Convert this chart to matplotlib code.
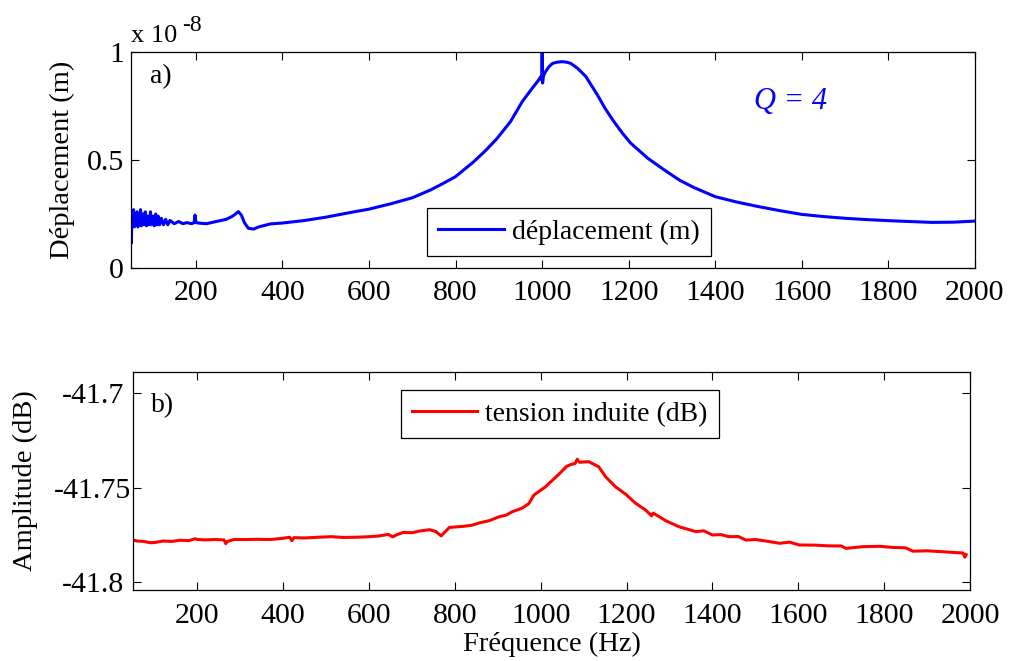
import numpy as np
import matplotlib
matplotlib.use('Agg')
from matplotlib import pyplot as plt

plt.rcParams['font.family'] = ['Liberation Serif', 'DejaVu Serif']

# a) deplacement, in units of 1e-8 m
freq_a = [50, 51, 52, 54, 56, 58, 60, 62, 64, 66, 68, 70, 72, 74, 77, 80, 83, 86, 89,
          92, 95, 98, 101, 104, 107, 110, 113, 116, 120, 125, 130, 135, 140, 150, 160,
          170, 179, 190, 196, 198, 200, 210, 225, 240, 256, 270, 285, 298, 305, 312,
          321, 333, 345, 372, 400, 448, 500, 526, 560, 599, 650, 700, 742, 770, 800,
          842, 870, 896, 927, 954, 974, 990, 997, 999, 1000, 1001, 1003, 1008, 1015,
          1024, 1035, 1047, 1058, 1066, 1082, 1101, 1128, 1145, 1166, 1185, 1205, 1244,
          1282, 1317, 1350, 1400, 1450, 1500, 1550, 1600, 1650, 1700, 1750, 1800, 1850,
          1900, 1950, 2000]
depl_a = [0.22, 0.115, 0.25, 0.20, 0.27, 0.19, 0.25, 0.20, 0.26, 0.19, 0.24, 0.20, 0.27,
          0.195, 0.25, 0.20, 0.26, 0.195, 0.24, 0.20, 0.26, 0.20, 0.24, 0.195, 0.25,
          0.20, 0.24, 0.20, 0.23, 0.20, 0.225, 0.20, 0.22, 0.205, 0.215, 0.205, 0.21,
          0.205, 0.21, 0.245, 0.21, 0.207, 0.205, 0.212, 0.219, 0.225, 0.24, 0.261,
          0.245, 0.21, 0.184, 0.18, 0.19, 0.204, 0.208, 0.219, 0.235, 0.245, 0.258,
          0.272, 0.297, 0.325, 0.361, 0.39, 0.423, 0.492, 0.545, 0.60, 0.678, 0.77,
          0.824, 0.865, 0.886, 0.87, 1.0, 0.856, 0.89, 0.909, 0.93, 0.947, 0.953, 0.955,
          0.952, 0.947, 0.924, 0.886, 0.80, 0.74, 0.677, 0.625, 0.577, 0.508, 0.454,
          0.407, 0.373, 0.33, 0.305, 0.284, 0.265, 0.248, 0.238, 0.23, 0.224, 0.219,
          0.215, 0.211, 0.212, 0.217]

# b) tension induite (dB)
freq_b = [50, 60, 75, 90, 100, 120, 140, 160, 180, 195, 200, 220, 240, 262, 266, 270,
          285, 310, 340, 370, 398, 415, 420, 425, 450, 480, 512, 540, 570, 600, 620, 645,
          655, 665, 680, 700, 720, 741, 755, 768, 775, 787, 820, 840, 858, 880, 902, 920,
          933, 956, 972, 984, 1011, 1042, 1060, 1070, 1080, 1085, 1090, 1112, 1135, 1151,
          1174, 1198, 1221, 1244, 1258, 1262, 1291, 1322, 1361, 1380, 1400, 1420, 1439,
          1460, 1478, 1500, 1530, 1556, 1580, 1602, 1640, 1672, 1700, 1711, 1750, 1789,
          1820, 1850, 1867, 1900, 1945, 1984, 1988, 1991]
amp_b = [-41.7779, -41.7784, -41.7786, -41.7793, -41.7792, -41.7784, -41.7786, -41.7780,
         -41.7782, -41.7772, -41.7776, -41.7778, -41.7776, -41.7778, -41.7798, -41.7786,
         -41.7776, -41.7776, -41.7775, -41.7776, -41.7770, -41.7764, -41.7782, -41.7766,
         -41.7768, -41.7764, -41.7761, -41.7765, -41.7764, -41.7761, -41.7758, -41.7749,
         -41.7762, -41.7750, -41.7738, -41.7740, -41.7730, -41.7724, -41.7733, -41.7757,
         -41.7740, -41.7712, -41.7706, -41.7700, -41.7687, -41.7676, -41.7656, -41.7646,
         -41.7629, -41.7610, -41.7586, -41.7540, -41.7496, -41.7430, -41.7388, -41.7378,
         -41.7372, -41.7350, -41.7366, -41.7363, -41.7390, -41.7443, -41.7496, -41.7536,
         -41.7584, -41.7619, -41.7650, -41.7636, -41.7676, -41.7708, -41.7734, -41.7730,
         -41.7752, -41.7750, -41.7761, -41.7760, -41.7779, -41.7776, -41.7786, -41.7796,
         -41.7790, -41.7805, -41.7806, -41.7810, -41.7810, -41.7823, -41.7814, -41.7812,
         -41.7818, -41.7820, -41.7838, -41.7836, -41.7842, -41.7848, -41.7870, -41.7856]

xticks = [200, 400, 600, 800, 1000, 1200, 1400, 1600, 1800, 2000]

fs_tick = 21.5
fs_lab = 20.5
fs_leg = 20
fig = plt.figure(figsize=(10.1, 6.61), dpi=100)
ax1 = fig.add_axes([0.1297, 0.5946, 0.8356, 0.3268])
ax2 = fig.add_axes([0.1317, 0.1074, 0.8287, 0.3298])

ax1.plot(freq_a, np.array(depl_a) * 1e-8, color='blue', lw=2.2, label='déplacement (m)')
ax1.set_xlim(50, 2000)
ax1.set_ylim(0, 1e-8)
ax1.set_yticks([0, 0.5e-8, 1e-8])
ax1.set_yticklabels(['0', '0.5', '1'])
ax1.set_ylabel('Déplacement (m)', fontsize=fs_lab)
ax1.yaxis.set_label_coords(-0.066, 0.5)
ax1.text(0.0, 1.046, 'x 10', transform=ax1.transAxes, fontsize=19, va='baseline', ha='left')
ax1.text(0.060, 1.098, '-8', transform=ax1.transAxes, fontsize=17, va='baseline', ha='left')
ax1.text(0.022, 0.885, 'a)', transform=ax1.transAxes, fontsize=fs_leg, va='center')
ax1.text(0.781, 0.77, 'Q = 4', transform=ax1.transAxes, fontsize=22, color='blue',
         style='italic', ha='center', va='center')
leg1 = ax1.legend(loc='lower center', bbox_to_anchor=(0.519, 0.056), fontsize=fs_leg,
                  handlelength=2.35, borderpad=0.4, handletextpad=0.3, fancybox=False,
                  framealpha=1, edgecolor='black', borderaxespad=0)
leg1.get_frame().set_linewidth(0.9)

ax2.plot(freq_b, amp_b, color='red', lw=2.2, label='tension induite (dB)')
ax2.set_xlim(50, 2000)
ax2.set_ylim(-41.8044, -41.6887)
ax2.set_yticks([-41.8, -41.75, -41.7])
ax2.set_yticklabels(['-41.8', '-41.75', '-41.7'])
ax2.set_ylabel('Amplitude (dB)', fontsize=fs_lab)
ax2.yaxis.set_label_coords(-0.113, 0.5)
ax2.set_xlabel('Fréquence (Hz)', fontsize=fs_lab, va='top')
ax2.xaxis.set_label_coords(0.5, -0.19)
ax2.text(0.022, 0.845, 'b)', transform=ax2.transAxes, fontsize=fs_leg, va='center')
leg2 = ax2.legend(loc='upper center', bbox_to_anchor=(0.51, 0.917), fontsize=fs_leg,
                  handlelength=2.35, borderpad=0.4, handletextpad=0.3, fancybox=False,
                  framealpha=1, edgecolor='black', borderaxespad=0)
leg2.get_frame().set_linewidth(0.9)

for ax in (ax1, ax2):
    ax.set_xticks(xticks)
    ax.tick_params(direction='in', length=6, width=0.8, labelsize=fs_tick,
                   top=True, right=True)
    ax.tick_params(axis='x', pad=9)
    for s in ax.spines.values():
        s.set_linewidth(0.9)

ax1.tick_params(axis='y', pad=5)
# bottom y tick labels sit centred in the reference
ax2.tick_params(axis='y', pad=29)
for lab in ax2.get_yticklabels():
    lab.set_horizontalalignment('center')

fig.savefig('out.png', dpi=100)
